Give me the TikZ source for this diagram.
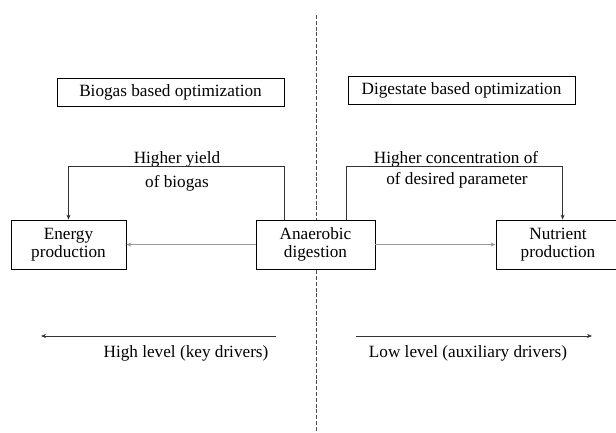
\documentclass[tikz,border=0pt]{standalone}
\usepackage{fontspec}
\setmainfont{Liberation Serif}
\usetikzlibrary{arrows.meta}
\begin{document}
\begin{tikzpicture}[x=1pt,y=-1pt,font=\fontsize{17.2}{18.5}\selectfont,
  boxstyle/.style={draw=black,fill=white,line width=0.8pt,align=center,inner sep=0pt},
  lbl/.style={inner sep=0pt,anchor=center},
  tip/.style={-{Stealth[length=5pt,width=4pt]}},
  fb/.style={tip,draw=black!80,line width=0.7pt},
  grayarr/.style={tip,draw=black!40,line width=0.8pt},
  divider/.style={draw=black!70,line width=0.8pt,dash pattern=on 4pt off 1.8pt}]
\useasboundingbox (0,0) rectangle (616,432);
\coordinate (dtop) at (316,15);
\coordinate (dbot) at (316,432);
\draw[divider] (dtop) -- (dbot);

\node[boxstyle,minimum width=227pt,minimum height=28pt] (bb) at (170.5,92) {Biogas based optimization};
\node[boxstyle,minimum width=227pt,minimum height=28pt] (db) at (461.5,90) {Digestate based optimization};
\node[boxstyle,minimum width=115pt,minimum height=49pt] (ep) at (68.5,244.5) {Energy\\production};
\node[boxstyle,minimum width=119pt,minimum height=49pt] (ad) at (315.5,244.5) {Anaerobic\\digestion};
\node[boxstyle,minimum width=124pt,minimum height=49pt] (np) at (558,244.5) {Nutrient\\production};

\node[lbl] (hy) at (177,159) {Higher yield};
\node[lbl] (ob) at (177,183) {of biogas};
\node[lbl] (hc) at (456,159) {Higher concentration of};
\node[lbl] (dp) at (457,180) {of desired parameter};
\node[lbl] (hl) at (186,353) {High level (key drivers)};
\node[lbl] (ll) at (468,353) {Low level (auxiliary drivers)};

\draw[fb] ([xshift=29pt]ad.north west) -- ++(0,-53) -| (ep.north);
\draw[fb] ([xshift=91pt]ad.north west) -- ++(0,-53) -| ([xshift=67pt]np.north west);

\draw[grayarr] (ad.west) -- (ep.east);
\draw[grayarr] (ad.east) -- (np.west);

\coordinate (l1) at (276,336);
\coordinate (l2) at (41,336);
\coordinate (r1) at (356,336);
\coordinate (r2) at (592,336);
\draw[tip,draw=black!80,line width=0.7pt] (l1) -- (l2);
\draw[tip,draw=black!80,line width=0.7pt] (r1) -- (r2);
\end{tikzpicture}
\end{document}
